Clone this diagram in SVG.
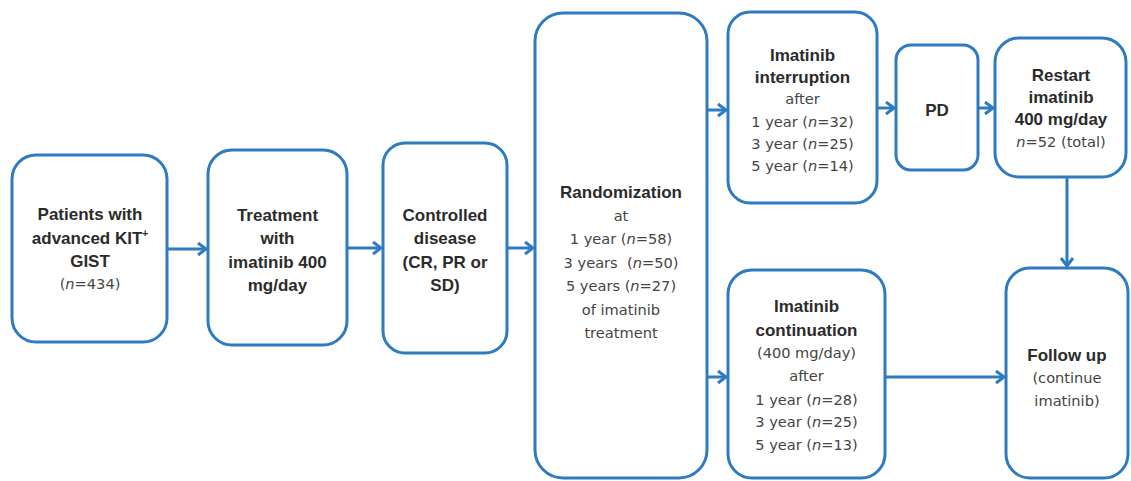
<svg xmlns="http://www.w3.org/2000/svg" width="1131" height="481" viewBox="0 0 1131 481">
<style>
.box{fill:#fff;stroke:#2F7BC2;stroke-width:3}
.con{fill:none;stroke:#2F7BC2;stroke-width:3}
text{text-anchor:middle;fill:#3a3a3a}
.b{font-family:"Liberation Sans",Arial,sans-serif;font-weight:bold;font-size:17px;fill:#2b2b2b}
.r{font-family:"DejaVu Sans",Verdana,sans-serif;font-size:14.6px;fill:#444}
.i{font-style:italic}
</style>
<defs>
<marker id="ah" markerUnits="userSpaceOnUse" markerWidth="14" markerHeight="16" refX="10" refY="7" orient="auto">
<path d="M2,1 L10,7 L2,13" fill="none" stroke="#2F7BC2" stroke-width="3"/>
</marker>
</defs>
<rect width="1131" height="481" fill="#fff"/>
<g id="connectors">
<line class="con" x1="167" y1="249" x2="206" y2="249" marker-end="url(#ah)"/>
<line class="con" x1="347" y1="248" x2="381" y2="248" marker-end="url(#ah)"/>
<line class="con" x1="507" y1="248" x2="533" y2="248" marker-end="url(#ah)"/>
<line class="con" x1="707" y1="110" x2="726" y2="110" marker-end="url(#ah)"/>
<line class="con" x1="707" y1="377" x2="726" y2="377" marker-end="url(#ah)"/>
<line class="con" x1="877" y1="108" x2="894" y2="108" marker-end="url(#ah)"/>
<line class="con" x1="978" y1="108" x2="993" y2="108" marker-end="url(#ah)"/>
<line class="con" x1="1067" y1="177" x2="1067" y2="266" marker-end="url(#ah)"/>
<line class="con" x1="885" y1="377" x2="1004" y2="377" marker-end="url(#ah)"/>
</g>
<g id="patients">
<rect class="box" x="12" y="155" width="155" height="187" rx="24"/>
<text class="b" x="90" y="220">Patients with</text>
<text class="b" x="90" y="244">advanced KIT<tspan font-size="10" dy="-7">+</tspan></text>
<text class="b" x="90" y="267">GIST</text>
<text class="r" x="90" y="289">(<tspan class="i">n</tspan>=434)</text>
</g>
<g id="treatment">
<rect class="box" x="208" y="150" width="139" height="195" rx="24"/>
<text class="b" x="277.5" y="221">Treatment</text>
<text class="b" x="277.5" y="244">with</text>
<text class="b" x="277.5" y="268">imatinib 400</text>
<text class="b" x="277.5" y="291">mg/day</text>
</g>
<g id="controlled">
<rect class="box" x="383" y="143" width="124" height="210" rx="22"/>
<text class="b" x="445" y="221">Controlled</text>
<text class="b" x="445" y="244">disease</text>
<text class="b" x="445" y="268">(CR, PR or</text>
<text class="b" x="445" y="291">SD)</text>
</g>
<g id="randomization">
<rect class="box" x="535" y="13" width="172" height="465" rx="28"/>
<text class="b" x="621" y="198">Randomization</text>
<text class="r" x="621" y="221">at</text>
<text class="r" x="621" y="244">1 year (<tspan class="i">n</tspan>=58)</text>
<text class="r" x="621" y="268" xml:space="preserve" style="white-space:pre">3 years  (<tspan class="i">n</tspan>=50)</text>
<text class="r" x="621" y="291">5 years (<tspan class="i">n</tspan>=27)</text>
<text class="r" x="621" y="315">of imatinib</text>
<text class="r" x="621" y="338">treatment</text>
</g>
<g id="interruption">
<rect class="box" x="728" y="12" width="149" height="191" rx="22"/>
<text class="b" x="802.5" y="61">Imatinib</text>
<text class="b" x="802.5" y="83">interruption</text>
<text class="r" x="802.5" y="104">after</text>
<text class="r" x="802.5" y="127">1 year (<tspan class="i">n</tspan>=32)</text>
<text class="r" x="802.5" y="149">3 year (<tspan class="i">n</tspan>=25)</text>
<text class="r" x="802.5" y="171">5 year (<tspan class="i">n</tspan>=14)</text>
</g>
<g id="pd">
<rect class="box" x="896" y="45" width="82" height="125" rx="15"/>
<text class="b" x="937" y="116">PD</text>
</g>
<g id="restart">
<rect class="box" x="995" y="38" width="131" height="139" rx="24"/>
<text class="b" x="1061" y="81">Restart</text>
<text class="b" x="1061" y="103">imatinib</text>
<text class="b" x="1061" y="125">400 mg/day</text>
<text class="r" x="1061" y="147"><tspan class="i">n</tspan>=52 (total)</text>
</g>
<g id="continuation">
<rect class="box" x="728" y="270" width="157" height="208" rx="24"/>
<text class="b" x="806.5" y="312">Imatinib</text>
<text class="b" x="806.5" y="336">continuation</text>
<text class="r" x="806.5" y="358">(400 mg/day)</text>
<text class="r" x="806.5" y="381">after</text>
<text class="r" x="806.5" y="405">1 year (<tspan class="i">n</tspan>=28)</text>
<text class="r" x="806.5" y="427">3 year (<tspan class="i">n</tspan>=25)</text>
<text class="r" x="806.5" y="450">5 year (<tspan class="i">n</tspan>=13)</text>
</g>
<g id="followup">
<rect class="box" x="1006" y="268" width="122" height="210" rx="24"/>
<text class="b" x="1067" y="361">Follow up</text>
<text class="r" x="1067" y="383">(continue</text>
<text class="r" x="1067" y="406">imatinib)</text>
</g>
</svg>
